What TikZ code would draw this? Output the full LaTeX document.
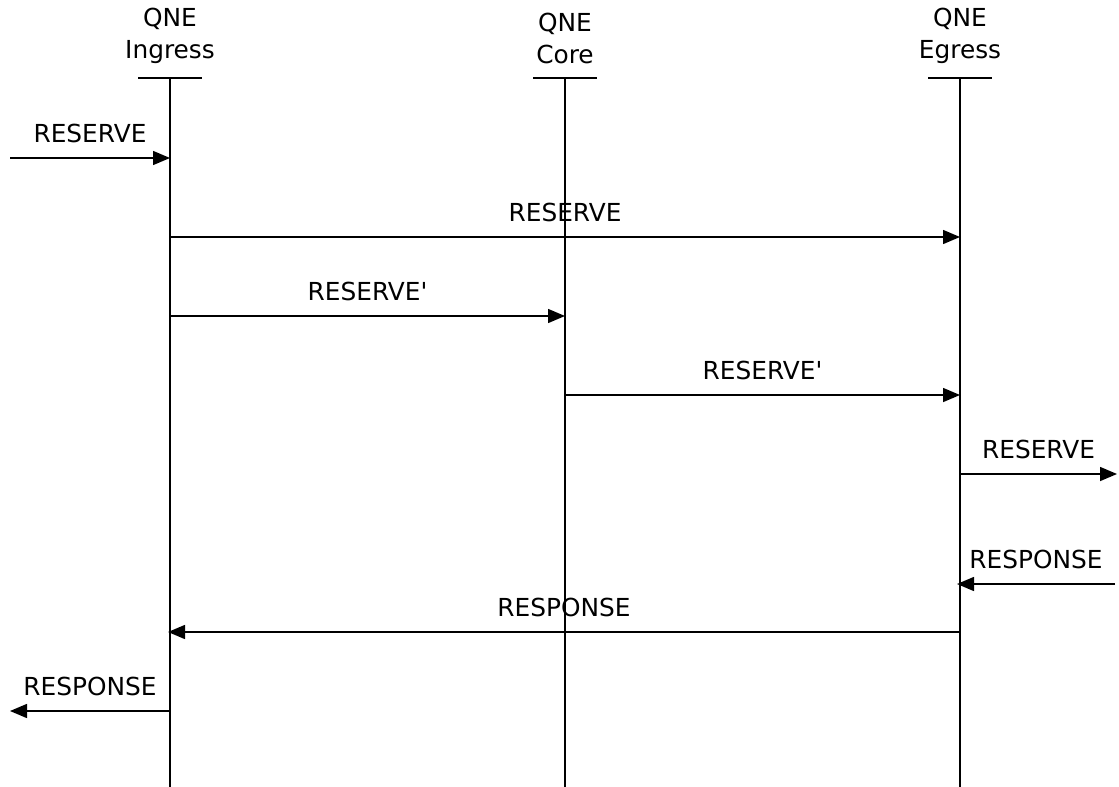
\documentclass[tikz,border=0pt]{standalone}
\usepackage{fontspec}
\setmainfont{DejaVu Sans}
\usetikzlibrary{arrows.meta,positioning,calc}

\begin{document}
\begin{tikzpicture}[x=0.5pt,y=-0.5pt,
    head/.style={align=center, font=\fontsize{12.4}{16}\selectfont, anchor=south, inner sep=0pt},
    lifeline/.style={line width=0.75pt},
    msg/.style={line width=0.75pt, -{Triangle[length=8.5pt,width=7pt]}},
    lbl/.style={font=\fontsize{12.4}{16}\selectfont, inner sep=0pt, above=7pt}]
    \useasboundingbox (0,0) rectangle (1119,787);

    % lifelines
    \node [head] (ingress) at (170,64) {QNE\\Ingress};
    \node [head] (core) at (565,64) {QNE\\Core};
    \node [head] (egress) at (960,64) {QNE\\Egress};
    \foreach \n/\x in {ing/170, cor/565, egr/960} {
        \coordinate (\n top) at (\x,78);
        \coordinate (\n bot) at (\x,787);
        \draw [lifeline] (\n top) -- (\n bot);
        \draw [lifeline] ($(\n top)+(-32,0)$) -- ($(\n top)+(32,0)$);
    }

    % end points of the messages
    \coordinate (inL) at (10,158);    \coordinate (ing1) at (170,158);
    \coordinate (ing2) at (170,237);  \coordinate (egr2) at (960,237);
    \coordinate (ing3) at (170,316);  \coordinate (cor3) at (565,316);
    \coordinate (cor4) at (565,395);  \coordinate (egr4) at (960,395);
    \coordinate (egr5) at (960,474);  \coordinate (outR) at (1117,474);
    \coordinate (inR) at (1115,584);  \coordinate (egr6) at (957,584);
    \coordinate (egr7) at (960,632);  \coordinate (ing7) at (168,632);
    \coordinate (ing8) at (170,711);  \coordinate (outL) at (10,711);

    % messages
    \draw [msg] (inL) -- node [lbl] {RESERVE} (ing1);
    \draw [msg] (ing2) -- node [lbl] {RESERVE} (egr2);
    \draw [msg] (ing3) -- node [lbl] {RESERVE\textquotesingle} (cor3);
    \draw [msg] (cor4) -- node [lbl] {RESERVE\textquotesingle} (egr4);
    \draw [msg] (egr5) -- node [lbl] {RESERVE} (outR);
    \draw [msg] (inR) -- node [lbl] {RESPONSE} (egr6);
    \draw [msg] (egr7) -- node [lbl] {RESPONSE} (ing7);
    \draw [msg] (ing8) -- node [lbl] {RESPONSE} (outL);
\end{tikzpicture}
\end{document}
